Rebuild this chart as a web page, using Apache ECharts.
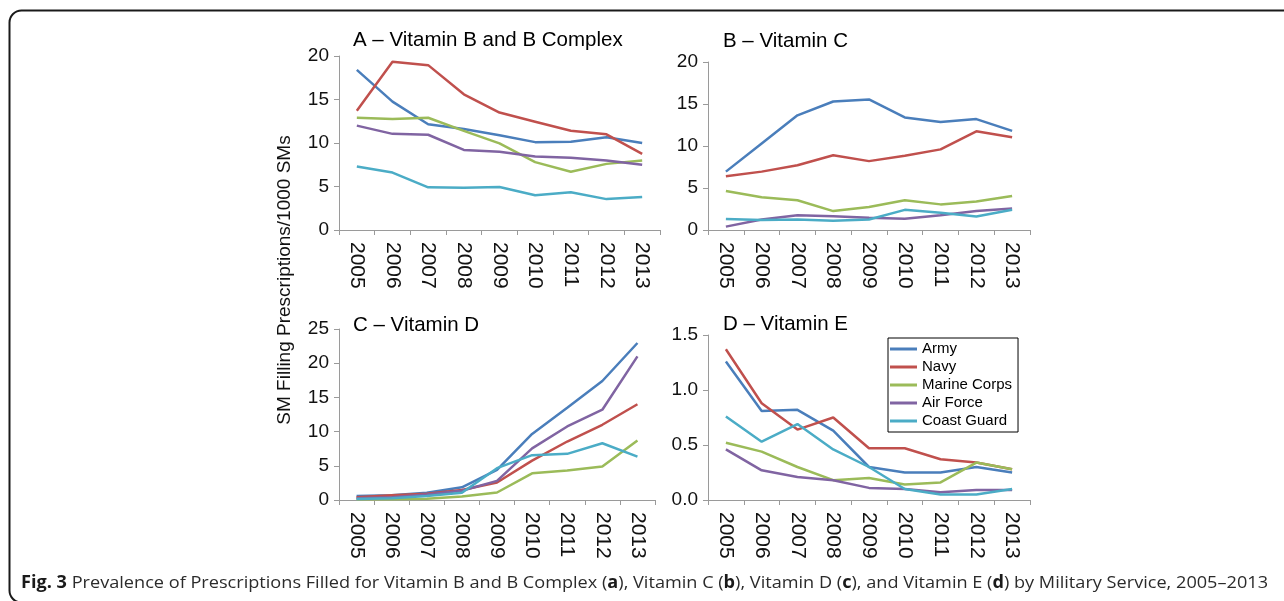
<!DOCTYPE html>
<html><head><meta charset="utf-8">
<script src="https://cdn.jsdelivr.net/npm/echarts@6/dist/echarts.min.js"></script>
<style>html,body{margin:0;padding:0;background:#fff}#c{width:1284px;height:601px}</style>
</head><body><div id="c"></div>
<script>
const years = ['2005','2006','2007','2008','2009','2010','2011','2012','2013'];
const services = ['Army','Navy','Marine Corps','Air Force','Coast Guard'];
const colors = ['#4a7ebb','#c0504d','#9bbb59','#8064a2','#4bacc6'];

// Panel A – Vitamin B and B Complex
const bArmy   = [18.4,14.75,12.15,11.6,10.9,10.1,10.15,10.65,10.0];
const bNavy   = [13.7,19.35,18.95,15.6,13.5,12.45,11.4,11.0,8.75];
const bMarine = [12.9,12.75,12.9,11.4,9.95,7.8,6.7,7.6,8.0];
const bAir    = [12.0,11.05,10.95,9.2,9.0,8.45,8.3,8.0,7.5];
const bCoast  = [7.3,6.6,4.9,4.85,4.95,4.0,4.35,3.55,3.8];
// Panel B – Vitamin C
const cArmy   = [6.95,10.3,13.65,15.3,15.55,13.4,12.85,13.2,11.8];
const cNavy   = [6.4,6.95,7.7,8.9,8.2,8.85,9.6,11.75,11.05];
const cMarine = [4.65,3.9,3.55,2.25,2.75,3.55,3.05,3.4,4.05];
const cAir    = [0.4,1.25,1.75,1.65,1.45,1.35,1.75,2.25,2.55];
const cCoast  = [1.3,1.2,1.25,1.1,1.25,2.4,2.05,1.6,2.4];
// Panel C – Vitamin D
const dArmy   = [0.6,0.7,1.05,1.85,4.4,9.65,13.5,17.4,22.95];
const dNavy   = [0.4,0.7,0.9,1.45,2.55,5.75,8.55,11.0,14.0];
const dMarine = [0.1,0.1,0.2,0.5,1.1,3.9,4.3,4.9,8.7];
const dAir    = [0.25,0.4,0.8,1.35,2.8,7.55,10.75,13.2,21.0];
const dCoast  = [0.15,0.25,0.6,1.05,4.65,6.55,6.75,8.3,6.35];
// Panel D – Vitamin E
const eArmy   = [1.26,0.81,0.82,0.63,0.30,0.25,0.25,0.30,0.25];
const eNavy   = [1.37,0.88,0.64,0.75,0.47,0.47,0.37,0.34,0.28];
const eMarine = [0.52,0.44,0.30,0.18,0.20,0.14,0.16,0.34,0.28];
const eAir    = [0.46,0.27,0.21,0.18,0.11,0.10,0.07,0.09,0.09];
const eCoast  = [0.76,0.53,0.69,0.46,0.30,0.10,0.05,0.05,0.10];

const panelTitles = ['A – Vitamin B and B Complex','B – Vitamin C','C – Vitamin D','D – Vitamin E'];
const yMax = [20,20,25,1.5];
const yInterval = [5,5,5,0.5];
const yAxisTitle = 'SM Filling Prescriptions/1000 SMs';
const captionText = '{b|Fig. 3} Prevalence of Prescriptions Filled for Vitamin B and B Complex ({b|a}), Vitamin C ({b|b}), Vitamin D ({b|c}), and Vitamin E ({b|d}) by Military Service, 2005–2013';

const panels = [
  [bArmy,bNavy,bMarine,bAir,bCoast],
  [cArmy,cNavy,cMarine,cAir,cCoast],
  [dArmy,dNavy,dMarine,dAir,dCoast],
  [eArmy,eNavy,eMarine,eAir,eCoast]
];

const FONT = '"Liberation Sans", Arial, Helvetica, sans-serif';
const grids = [
  {left:339, top:56,  width:321, height:174},
  {left:708, top:62,  width:322, height:168},
  {left:339, top:329, width:316, height:171},
  {left:708, top:335, width:322, height:165}
];
const titlePos = [[353,40],[723,41],[353,325],[723,324]];

const axisColor = '#9a9a9a';
const xAxes = grids.map((g,i)=>({
  type:'category', gridIndex:i, data:years, boundaryGap:true,
  axisLine:{lineStyle:{color:axisColor,width:1}},
  axisTick:{show:true, length:5, interval:0, lineStyle:{color:axisColor}},
  axisLabel:{rotate:-90, interval:0, margin:12, fontSize:21, fontFamily:FONT, color:'#111'}
}));
const yAxes = grids.map((g,i)=>({
  type:'value', gridIndex:i, min:0, max:yMax[i], interval:yInterval[i],
  axisLine:{show:true, lineStyle:{color:axisColor,width:1}},
  axisTick:{show:true, length:5, lineStyle:{color:axisColor}},
  splitLine:{show:false},
  axisLabel:{margin:10, fontSize:19, fontFamily:FONT, color:'#111',
    formatter: i===3 ? (v)=>v.toFixed(1) : (v)=>String(v)}
}));

const series = [];
panels.forEach((arrs,pi)=>{
  arrs.forEach((arr,si)=>{
    series.push({
      type:'line', name:services[si], xAxisIndex:pi, yAxisIndex:pi, data:arr,
      symbol:'none', showSymbol:false, smooth:false,
      lineStyle:{color:colors[si], width:2.5}, itemStyle:{color:colors[si]},
      animation:false
    });
  });
});

// measure caption to fit original width
function measure(txt, font){const c=document.createElement('canvas').getContext('2d');c.font=font;return c.measureText(txt).width;}
const capFont = 17, capFam = '"Open Sans", "Noto Sans", sans-serif';
let capW = 0;
captionText.split(/(\{b\|[^}]*\})/).forEach(part=>{
  if(!part) return;
  const m = part.match(/^\{b\|([^}]*)\}$/);
  if(m) capW += measure(m[1], 'bold '+capFont+'px '+capFam);
  else capW += measure(part, capFont+'px '+capFam);
});
const capScale = 1247/capW;

const graphics = [
  {type:'rect', shape:{x:9.5,y:10.5,width:1400,height:592,r:12}, style:{fill:'none',stroke:'#1a1a1a',lineWidth:2}, silent:true, z:0},
  {type:'text', x:285, y:280, rotation:Math.PI/2, style:{text:yAxisTitle, font:'19px '+FONT, fill:'#111', align:'center', verticalAlign:'middle'}},
  {type:'text', x:21, y:583, scaleX:capScale, style:{text:captionText, fontSize:capFont, fontFamily:capFam, fill:'#2b2b2b', verticalAlign:'middle', align:'left', rich:{b:{fontWeight:'bold', fontSize:capFont, fontFamily:capFam, fill:'#1a1a1a'}}}}
];
panelTitles.forEach((t,i)=>{
  graphics.push({type:'text', x:titlePos[i][0], y:titlePos[i][1], style:{text:t, font:'20.5px '+FONT, fill:'#000', align:'left', verticalAlign:'middle'}});
});

const chart = echarts.init(document.getElementById('c'), null, {renderer:'canvas'});
chart.setOption({
  animation:false,
  backgroundColor:'#fff',
  grid: grids,
  xAxis: xAxes,
  yAxis: yAxes,
  series: series,
  legend:{
    data:services, orient:'vertical', left:888, top:338,
    padding:[2,6,2,2], itemGap:0, itemWidth:27, itemHeight:3, icon:'rect',
    borderColor:'#000', borderWidth:1, backgroundColor:'#fff',
    textStyle:{fontSize:15, fontFamily:FONT, color:'#000', lineHeight:18}
  },
  graphic: graphics
});
</script></body></html>
